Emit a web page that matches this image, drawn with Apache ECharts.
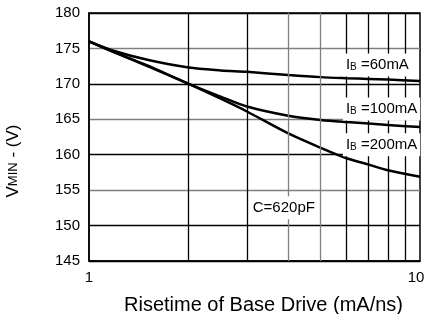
<!DOCTYPE html>
<html>
<head>
<meta charset="utf-8">
<script src="https://cdn.jsdelivr.net/npm/echarts@6/dist/echarts.min.js"></script>
<style>html,body{margin:0;padding:0;background:#fff;}#c{width:427px;height:314px;}</style>
</head>
<body>
<div id="c"></div>
<script>
var xValues = [1, 1.2, 1.5, 2, 2.5, 3, 4, 5, 6, 7, 8, 10];
var ib60 = [176, 174.6, 173.4, 172.3, 171.9, 171.7, 171.25, 170.95, 170.8, 170.7, 170.6, 170.4];
var ib100 = [176, 174.4, 172.6, 170.0, 168.2, 166.8, 165.5, 164.9, 164.6, 164.4, 164.2, 163.9];
var ib200 = [176, 174.4, 172.5, 170.0, 167.9, 166.1, 163.0, 161.0, 159.5, 158.6, 157.8, 156.9];
var minorGridX = [2, 3, 4, 5, 6, 7, 8, 9];
var minorGridGray = [4, 5];
var yTicks = [145, 150, 155, 160, 165, 170, 175, 180];
var yGray = [155, 165, 175];

var FONT = 'Liberation Sans';
function pairs(ys) { return xValues.map(function (x, i) { return [x, ys[i]]; }); }
var curveStyle = { color: '#000', width: 2.5 };

var labelRich = {
  i: { fontFamily: FONT, fontSize: 15, color: '#000' },
  s: { fontFamily: FONT, fontSize: 10, color: '#000', verticalAlign: 'bottom', padding: [3, 0, 0, 0] }
};
function annot(coord, text) {
  return {
    coord: coord, symbol: 'circle', symbolSize: 0,
    label: {
      show: true, position: 'right', distance: 0, formatter: text,
      backgroundColor: '#fff', padding: [4, 3, 4, 3], rich: labelRich,
      fontFamily: FONT, fontSize: 15, color: '#000'
    }
  };
}

var chart = echarts.init(document.getElementById('c'), null, { renderer: 'canvas' });
chart.setOption({
  animation: false,
  backgroundColor: '#fff',
  grid: { left: 89, right: 7, top: 13, bottom: 53, show: true, borderColor: '#000', borderWidth: 1.5, containLabel: false, outerBoundsMode: 'none' },
  xAxis: {
    type: 'log', logBase: 10, min: 1, max: 10,
    name: 'Risetime of Base Drive (mA/ns)', nameLocation: 'middle', nameGap: 34,
    nameTextStyle: { fontFamily: FONT, fontSize: 20, color: '#000', padding: [0, 0, 0, 18] },
    axisLine: { lineStyle: { color: '#000', width: 1.5 } },
    axisTick: { show: false },
    splitLine: { show: false },
    axisLabel: {
      fontFamily: FONT, fontSize: 15, color: '#000', margin: 9,
      formatter: function (v) { return v >= 10 ? '{r|' + v + '}' : String(v); },
      rich: { r: { fontFamily: FONT, fontSize: 15, color: '#000', padding: [0, 8, 0, 0] } }
    }
  },
  yAxis: {
    type: 'value', min: 145, max: 180, interval: 5,
    name: '{a|V}{b|MIN}{a| - (V)}', nameLocation: 'middle', nameRotate: 90, nameGap: 67,
    nameTextStyle: {
      padding: [0, 48, 0, 0],
      rich: {
        a: { fontFamily: FONT, fontSize: 17, color: '#000' },
        b: { fontFamily: FONT, fontSize: 13, color: '#000' }
      }
    },
    axisLine: { show: true, lineStyle: { color: '#000', width: 1.5 } },
    axisTick: { show: false },
    axisLabel: { fontFamily: FONT, fontSize: 15, color: '#000', margin: 9 },
    splitLine: {
      show: true,
      lineStyle: { width: 1.3, color: yTicks.map(function (v) { return yGray.indexOf(v) >= 0 ? '#7f7f7f' : '#000'; }) }
    }
  },
  series: [
    {
      type: 'line', data: [], z: 1, silent: true,
      markLine: {
        silent: true, symbol: 'none', label: { show: false }, animation: false,
        data: minorGridX.map(function (v) {
          return { xAxis: v, lineStyle: { type: 'solid', width: 1.3, color: minorGridGray.indexOf(v) >= 0 ? '#7f7f7f' : '#000' } };
        })
      }
    },
    { name: 'IB=60mA', type: 'line', data: pairs(ib60), smooth: 0.3, showSymbol: false, lineStyle: curveStyle, z: 3 },
    { name: 'IB=100mA', type: 'line', data: pairs(ib100), smooth: 0.3, showSymbol: false, lineStyle: curveStyle, z: 3 },
    { name: 'IB=200mA', type: 'line', data: pairs(ib200), smooth: 0.3, showSymbol: false, lineStyle: curveStyle, z: 3 },
    {
      type: 'line', data: [], z: 4, silent: true,
      markPoint: {
        silent: true, animation: false,
        data: [
          annot([5.85, 172.66], '{i|I}{s|B}{i| =60mA}'),
          annot([5.85, 166.45], '{i|I}{s|B}{i| =100mA}'),
          annot([5.85, 161.4], '{i|I}{s|B}{i| =200mA}'),
          annot([3.06, 152.5], '{i|C=620pF}')
        ]
      }
    }
  ]
});
</script>
</body>
</html>
